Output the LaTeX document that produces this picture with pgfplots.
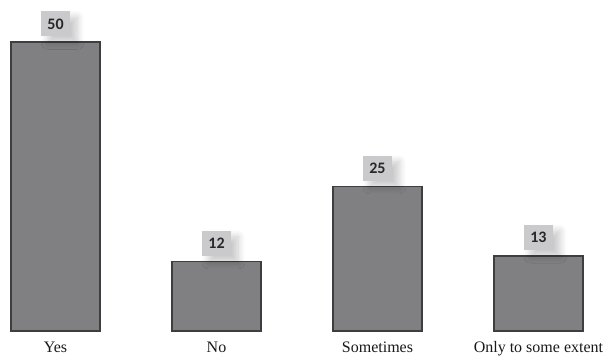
\documentclass[border=0pt]{standalone}
\usepackage{pgfplots}
\pgfplotsset{compat=1.18}
\usepackage{fontspec}
\setmainfont{Liberation Serif}
\newfontfamily\valfont{Carlito}
\usetikzlibrary{shadows.blur}

\definecolor{barfill}{RGB}{128,128,131}
\definecolor{barline}{RGB}{62,62,64}
\definecolor{boxfill}{RGB}{202,202,204}
\definecolor{valtext}{RGB}{40,40,40}
\definecolor{cattext}{RGB}{25,25,25}

\begin{document}
\begin{tikzpicture}
\begin{axis}[
  at={(0pt,26pt)}, anchor=south west,
  scale only axis,
  width=612pt, height=331pt,
  xmin=-0.345, xmax=3.457,
  ymin=0, ymax=57.27,
  axis line style={draw=none},
  major tick style={draw=none},
  ytick=\empty,
  xtick={0,1,2,3},
  xticklabels={Yes,No,Sometimes,Only to some extent},
  xticklabel style={font=\fontsize{16}{19}\selectfont, text=cattext, yshift=-3pt},
  ybar, bar width=89pt,
  nodes near coords={\valfont\bfseries\pgfmathprintnumber[assume math mode=true]{\pgfplotspointmeta}},
  every node near coord/.append style={
    font=\valfont\bfseries\fontsize{16}{18}\selectfont,
    text=valtext,
    fill=boxfill,
    minimum width=29pt, minimum height=25pt,
    inner sep=0pt,
    anchor=south, yshift=5pt,
    blur shadow={shadow xshift=7pt, shadow yshift=-6pt, shadow blur radius=7pt, shadow blur steps=12, shadow opacity=22}
  },
]
\addplot[fill=barfill, draw=barline, line width=1.4pt]
  coordinates {(0,50) (1,12) (2,25) (3,13)};
\end{axis}
\pgfresetboundingbox
\path (0,0) rectangle (612pt,357pt);
\end{tikzpicture}
\end{document}
